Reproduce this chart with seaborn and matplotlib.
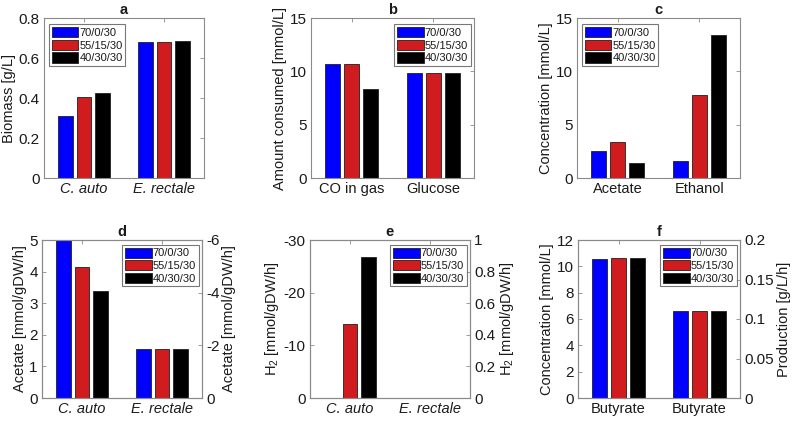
import numpy as np
import pandas as pd
import matplotlib
matplotlib.use('Agg')
import matplotlib.pyplot as plt
from matplotlib.patches import Patch
import seaborn as sns

# ---------------- data ----------------
conditions = ['70/0/30', '55/15/30', '40/30/30']
colors = ['#0000FF', '#D01C1F', '#000000']

a_cats = ['C. auto', 'E. rectale']
a_70 = [0.31, 0.678]
a_55 = [0.403, 0.681]
a_40 = [0.423, 0.684]

b_cats = ['CO in gas', 'Glucose']
b_70 = [10.72, 9.8]
b_55 = [10.72, 9.85]
b_40 = [8.38, 9.85]

c_cats = ['Acetate', 'Ethanol']
c_70 = [2.55, 1.6]
c_55 = [3.4, 7.75]
c_40 = [1.45, 13.45]

d_cats = ['C. auto', 'E. rectale']
d_70 = [5.0, 1.55]
d_55 = [4.15, 1.55]
d_40 = [3.4, 1.55]

e_cats = ['C. auto', 'E. rectale']
e_70 = [0.0, 0.0]
e_55 = [-14.1, 0.0]
e_40 = [-26.8, 0.0]

f_labels = ['Butyrate', 'Butyrate']
f_conc_70, f_conc_55, f_conc_40 = 10.55, 10.6, 10.6      # mmol/L (left axis)
f_prod_70, f_prod_55, f_prod_40 = 0.1098, 0.1103, 0.1103  # g/L/h (right axis)

# ---------------- style ----------------
sns.set_style('white')
plt.rcParams['font.family'] = ['Liberation Sans', 'DejaVu Sans']
plt.rcParams['axes.unicode_minus'] = False
plt.rcParams['mathtext.fontset'] = 'custom'
plt.rcParams['mathtext.rm'] = 'Liberation Sans'
plt.rcParams['mathtext.it'] = 'Liberation Sans:italic'

SPINE = '#8a8a8a'
TXT = '#1a1a1a'
FS_TICK = 11
FS_X = 10.5
FS_LAB = 10.5

fig = plt.figure(figsize=(8, 4.21), dpi=100)


def add_ax(l, t, r, b):
    return fig.add_axes([l / 800, 1 - b / 421, (r - l) / 800, (b - t) / 421])


def make_df(cats, s70, s55, s40):
    rows = []
    for cond, vals in zip(conditions, [s70, s55, s40]):
        for c, v in zip(cats, vals):
            rows.append({'cat': c, 'val': v, 'cond': cond})
    return pd.DataFrame(rows)


def draw(ax, df, order):
    sns.barplot(data=df, x='cat', y='val', hue='cond', order=order,
                hue_order=conditions, palette=colors, saturation=1,
                edgecolor='#202020', linewidth=0.6, width=0.7, gap=0.2,
                errorbar=None, legend=False, ax=ax)
    ax.set_xlabel('')
    ax.set_ylabel('')
    ax.set_xlim(-0.5, 1.5)


def style(ax, right_ticks=True):
    for s in ax.spines.values():
        s.set_color(SPINE)
        s.set_linewidth(0.8)
        s.set_visible(True)
    ax.tick_params(direction='in', length=3, width=0.6, color=SPINE,
                   labelcolor=TXT, top=True, right=right_ticks, pad=3)
    ax.tick_params(axis='y', labelsize=FS_TICK)
    ax.tick_params(axis='x', labelsize=FS_X)


def legend(ax, loc, anchor):
    handles = [Patch(facecolor=c, edgecolor='#202020', linewidth=0.6) for c in colors]
    lg = ax.legend(handles, conditions, loc=loc, bbox_to_anchor=anchor,
                   fontsize=8, frameon=True, fancybox=False, handlelength=2.4,
                   handleheight=1.05, handletextpad=0.1, labelspacing=0.15,
                   borderpad=0.25, borderaxespad=0)
    lg.get_frame().set_edgecolor('#555555')
    lg.get_frame().set_linewidth(0.8)
    for t in lg.get_texts():
        t.set_color(TXT)


def title(ax, s):
    ax.set_title(s, fontsize=10.5, fontweight='bold', pad=3, color=TXT)


def ylab(ax, s):
    ax.set_ylabel(s, fontsize=FS_LAB, color=TXT, labelpad=2)


# ---------------- panel a ----------------
ax = add_ax(44, 18, 204, 178)
draw(ax, make_df(a_cats, a_70, a_55, a_40), a_cats)
ax.set_ylim(0, 0.8)
ax.set_yticks([0, 0.2, 0.4, 0.6, 0.8])
ax.set_yticklabels(['0', '0.2', '0.4', '0.6', '0.8'])
ylab(ax, 'Biomass [g/L]')
style(ax)
for t in ax.get_xticklabels():
    t.set_fontstyle('italic')
legend(ax, 'upper left', (0.03, 0.96))
title(ax, 'a')

# ---------------- panel b ----------------
ax = add_ax(311, 18, 474, 178)
draw(ax, make_df(b_cats, b_70, b_55, b_40), b_cats)
ax.set_ylim(0, 15)
ax.set_yticks([0, 5, 10, 15])
ylab(ax, 'Amount consumed [mmol/L]')
style(ax)
legend(ax, 'upper right', (0.98, 0.96))
title(ax, 'b')

# ---------------- panel c ----------------
ax = add_ax(577, 18, 740, 178)
draw(ax, make_df(c_cats, c_70, c_55, c_40), c_cats)
ax.set_ylim(0, 15)
ax.set_yticks([0, 5, 10, 15])
ylab(ax, 'Concentration [mmol/L]')
style(ax)
legend(ax, 'upper left', (0.03, 0.96))
title(ax, 'c')

# ---------------- panel d ----------------
ax = add_ax(42, 240, 202, 398)
draw(ax, make_df(d_cats, d_70, d_55, d_40), d_cats)
ax.set_ylim(0, 5)
ax.set_yticks([0, 1, 2, 3, 4, 5])
ylab(ax, 'Acetate [mmol/gDW/h]')
style(ax, right_ticks=False)
for t in ax.get_xticklabels():
    t.set_fontstyle('italic')
ax2 = ax.twinx()
ax2.set_ylim(0, -6)
ax2.set_yticks([0, -2, -4, -6])
ylab(ax2, 'Acetate [mmol/gDW/h]')
style(ax2)
ax2.tick_params(left=False, top=False)
legend(ax2, 'upper right', (0.98, 0.97))
title(ax, 'd')

# ---------------- panel e ----------------
ax = add_ax(310, 240, 470, 398)
draw(ax, make_df(e_cats, e_70, e_55, e_40), e_cats)
ax.set_ylim(0, -30)
ax.set_yticks([0, -10, -20, -30])
ylab(ax, 'H$_\\mathregular{2}$ [mmol/gDW/h]')
style(ax, right_ticks=False)
for t in ax.get_xticklabels():
    t.set_fontstyle('italic')
ax2 = ax.twinx()
ax2.set_ylim(0, 1)
ax2.set_yticks([0, 0.2, 0.4, 0.6, 0.8, 1])
ax2.set_yticklabels(['0', '0.2', '0.4', '0.6', '0.8', '1'])
ylab(ax2, 'H$_\\mathregular{2}$ [mmol/gDW/h]')
style(ax2)
ax2.tick_params(left=False, top=False)
legend(ax2, 'upper right', (0.98, 0.97))
title(ax, 'e')

# ---------------- panel f ----------------
f_order = ['conc', 'prod']
ax = add_ax(578, 240, 740, 398)
df_conc = pd.DataFrame({'cat': ['conc'] * 3, 'cond': conditions,
                        'val': [f_conc_70, f_conc_55, f_conc_40]})
draw(ax, df_conc, f_order)
ax.set_ylim(0, 12)
ax.set_yticks([0, 2, 4, 6, 8, 10, 12])
ylab(ax, 'Concentration [mmol/L]')
ax.set_xticks([0, 1])
ax.set_xticklabels(f_labels)
style(ax, right_ticks=False)
ax2 = ax.twinx()
df_prod = pd.DataFrame({'cat': ['prod'] * 3, 'cond': conditions,
                        'val': [f_prod_70, f_prod_55, f_prod_40]})
draw(ax2, df_prod, f_order)
ax2.set_ylim(0, 0.2)
ax2.set_yticks([0, 0.05, 0.1, 0.15, 0.2])
ax2.set_yticklabels(['0', '0.05', '0.1', '0.15', '0.2'])
ylab(ax2, 'Production [g/L/h]')
ax2.set_xticks([0, 1])
ax2.set_xticklabels(f_labels)
style(ax2)
ax2.tick_params(left=False, top=False)
legend(ax2, 'upper right', (0.98, 0.97))
title(ax, 'f')

fig.savefig('out.png', dpi=100)
